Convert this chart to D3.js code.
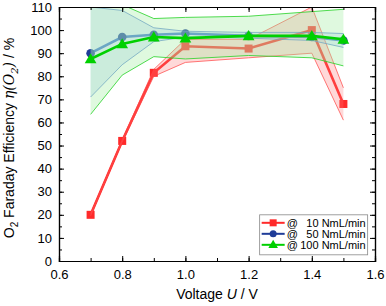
<!DOCTYPE html>
<html>
<head>
<meta charset="utf-8">
<script src="https://cdn.jsdelivr.net/npm/d3@7"></script>
<style>
  body { margin: 0; background: #fff; }
  text { font-family: "Liberation Sans", Arial, sans-serif; }
</style>
</head>
<body>
<svg id="chart"></svg>
<script>
const voltage = [0.7, 0.8, 0.9, 1.0, 1.2, 1.4, 1.5];

const fe10 = [20, 52, 81.5, 93, 92, 100, 68];
const fe10Lo = [19.5, 51.5, 80, 86, 88, 90, 61];
const fe10Hi = [20.5, 52.5, 83, 96, 96, 110, 75];

const fe50 = [90, 97, 98, 98.5, 97.5, 97, 95.5];
const fe50Lo = [71, 85, 95, 97, 96.5, 95.5, 92.5];
const fe50Hi = [110, 108.5, 101, 99.5, 99, 99, 98.5];

const fe100 = [87.5, 94, 97, 96.5, 97.5, 97.5, 96];
const fe100Lo = [63.5, 80.5, 88.5, 87.5, 89, 88, 84.5];
const fe100Hi = [112, 111, 105, 105.5, 106, 108, 109];

const legendLabels = ["10 NmL/min", "50 NmL/min", "100 NmL/min"];
const xTicks = [0.6, 0.8, 1.0, 1.2, 1.4, 1.6];
const yTicks = [0, 10, 20, 30, 40, 50, 60, 70, 80, 90, 100, 110];

const margin = { top: 7, right: 11, bottom: 45, left: 59 };
const width = 386 - margin.left - margin.right;
const height = 306 - margin.top - margin.bottom;

const svg = d3.select("#chart")
    .attr("width", 386)
    .attr("height", 306)
    .append("g")
    .attr("transform", `translate(${margin.left},${margin.top})`);

const x = d3.scaleLinear().domain([0.6, 1.6]).range([0, width]);
const y = d3.scaleLinear().domain([0, 110]).range([height, 0]);

svg.append("defs").append("clipPath")
    .attr("id", "clip")
    .append("rect")
    .attr("width", width)
    .attr("height", height);

const plot = svg.append("g").attr("clip-path", "url(#clip)");

const line = vals => d3.line()
    .x((d, i) => x(voltage[i]))
    .y(d => y(d))(vals);

const area = (lo, hi) => d3.area()
    .x((d, i) => x(voltage[i]))
    .y0((d, i) => y(lo[i]))
    .y1((d, i) => y(hi[i]))(voltage);

const red = "#ff2a2a", navy = "#1f3c98", green = "#00d000";
const blueLine = "#3a6fd0";

// red + blue series sit under the error bands
plot.append("path").attr("d", line(fe10))
    .attr("fill", "none").attr("stroke", red).attr("stroke-width", 2.6);
plot.selectAll(".sq").data(fe10).join("rect")
    .attr("x", (d, i) => x(voltage[i]) - 4)
    .attr("y", d => y(d) - 4)
    .attr("width", 8).attr("height", 8)
    .attr("fill", red);

plot.append("path").attr("d", line(fe50))
    .attr("fill", "none").attr("stroke", blueLine).attr("stroke-width", 2.6);
plot.selectAll(".ci").data(fe50).join("circle")
    .attr("cx", (d, i) => x(voltage[i]))
    .attr("cy", d => y(d))
    .attr("r", 4.3)
    .attr("fill", navy);

// bands
const bands = [
    { lo: fe10Lo, hi: fe10Hi, fill: "rgba(255,120,120,0.28)", stroke: "rgba(255,70,70,0.8)" },
    { lo: fe50Lo, hi: fe50Hi, fill: "rgba(140,180,235,0.26)", stroke: "rgba(90,130,210,0.85)" },
    { lo: fe100Lo, hi: fe100Hi, fill: "rgba(160,238,160,0.34)", stroke: "rgba(40,210,40,0.9)" }
];
bands.forEach(b => {
    plot.append("path").attr("d", area(b.lo, b.hi))
        .attr("fill", b.fill).attr("stroke", "none");
    plot.append("path").attr("d", line(b.lo))
        .attr("fill", "none").attr("stroke", b.stroke).attr("stroke-width", 0.9);
    plot.append("path").attr("d", line(b.hi))
        .attr("fill", "none").attr("stroke", b.stroke).attr("stroke-width", 0.9);
});

// green series on top
const tri = d3.symbol().type(d3.symbolTriangle).size(60);
plot.append("path").attr("d", line(fe100))
    .attr("fill", "none").attr("stroke", green).attr("stroke-width", 2.6);
plot.selectAll(".tr").data(fe100).join("path")
    .attr("d", tri)
    .attr("transform", (d, i) => `translate(${x(voltage[i])},${y(d) + 1})`)
    .attr("fill", green);

// axes, ticks inward on all four sides
const xMinor = d3.range(0.6, 1.61, 0.1);
const yMinor = d3.range(0, 111, 5);

svg.append("g")
    .attr("transform", `translate(0,${height})`)
    .call(d3.axisBottom(x).tickValues(xMinor).tickSize(-3).tickFormat(""));
svg.append("g")
    .attr("transform", `translate(0,${height})`)
    .call(d3.axisBottom(x).tickValues(xTicks).tickSize(-5).tickPadding(9).tickFormat(d3.format(".1f")));
svg.append("g")
    .call(d3.axisTop(x).tickValues(xMinor).tickSize(-3).tickFormat(""));
svg.append("g")
    .call(d3.axisTop(x).tickValues(xTicks).tickSize(-5).tickFormat(""));

svg.append("g")
    .call(d3.axisLeft(y).tickValues(yMinor).tickSize(-3).tickFormat(""));
svg.append("g")
    .call(d3.axisLeft(y).tickValues(yTicks).tickSize(-5).tickPadding(7));
svg.append("g")
    .attr("transform", `translate(${width},0)`)
    .call(d3.axisRight(y).tickValues(yMinor).tickSize(-3).tickFormat(""));
svg.append("g")
    .attr("transform", `translate(${width},0)`)
    .call(d3.axisRight(y).tickValues(yTicks).tickSize(-5).tickFormat(""));

svg.selectAll(".domain").attr("stroke", "#000").attr("stroke-width", 1.2);
svg.selectAll(".tick line").attr("stroke", "#000");
svg.selectAll(".tick text")
    .attr("fill", "#000")
    .style("font-size", "13px")
    .style("font-family", "Liberation Sans, Arial, sans-serif");

// axis labels
const xl = svg.append("text")
    .attr("x", width / 2)
    .attr("y", height + 38)
    .attr("text-anchor", "middle")
    .style("font-size", "14px");
xl.append("tspan").text("Voltage ");
xl.append("tspan").attr("font-style", "italic").text("U");
xl.append("tspan").text(" / V");

const yl = svg.append("text")
    .attr("transform", `translate(${-45},${height / 2 + 4}) rotate(-90)`)
    .attr("text-anchor", "middle")
    .style("font-size", "14px");
yl.append("tspan").text("O");
yl.append("tspan").attr("dy", 4).style("font-size", "10px").text("2");
yl.append("tspan").attr("dy", -4).text(" Faraday Efficiency ");
yl.append("tspan").attr("font-family", "DejaVu Serif, serif").attr("font-style", "italic").text("η(O");
yl.append("tspan").attr("font-family", "DejaVu Serif, serif").attr("font-style", "italic")
    .attr("dy", 4).style("font-size", "10px").text("2");
yl.append("tspan").attr("font-family", "DejaVu Serif, serif").attr("font-style", "italic")
    .attr("dy", -4).text(")");
yl.append("tspan").text(" / %");

// legend
const lg = svg.append("g").attr("transform", `translate(${x(1.235)},${y(20)})`);
lg.append("rect")
    .attr("width", 108).attr("height", 40)
    .attr("fill", "#fff").attr("stroke", "#888").attr("stroke-width", 0.8);

const legendColors = [red, navy, green];
legendLabels.forEach((lab, i) => {
    const row = lg.append("g").attr("transform", `translate(0,${8 + i * 11})`);
    row.append("line").attr("x1", 2).attr("x2", 25)
        .attr("stroke", legendColors[i]).attr("stroke-width", 2);
    if (i === 0) row.append("rect").attr("x", 10).attr("y", -3.5).attr("width", 7).attr("height", 7).attr("fill", red);
    if (i === 1) row.append("circle").attr("cx", 13.5).attr("r", 3.5).attr("fill", navy);
    if (i === 2) row.append("path").attr("d", d3.symbol().type(d3.symbolTriangle).size(40)).attr("transform", "translate(13.5,0.5)").attr("fill", green);
    row.append("text").attr("x", 27).attr("y", 4).style("font-size", "11px").text("@");
    row.append("text").attr("x", 106).attr("y", 4).attr("text-anchor", "end").style("font-size", "11px").text(lab);
});
</script>
</body>
</html>
